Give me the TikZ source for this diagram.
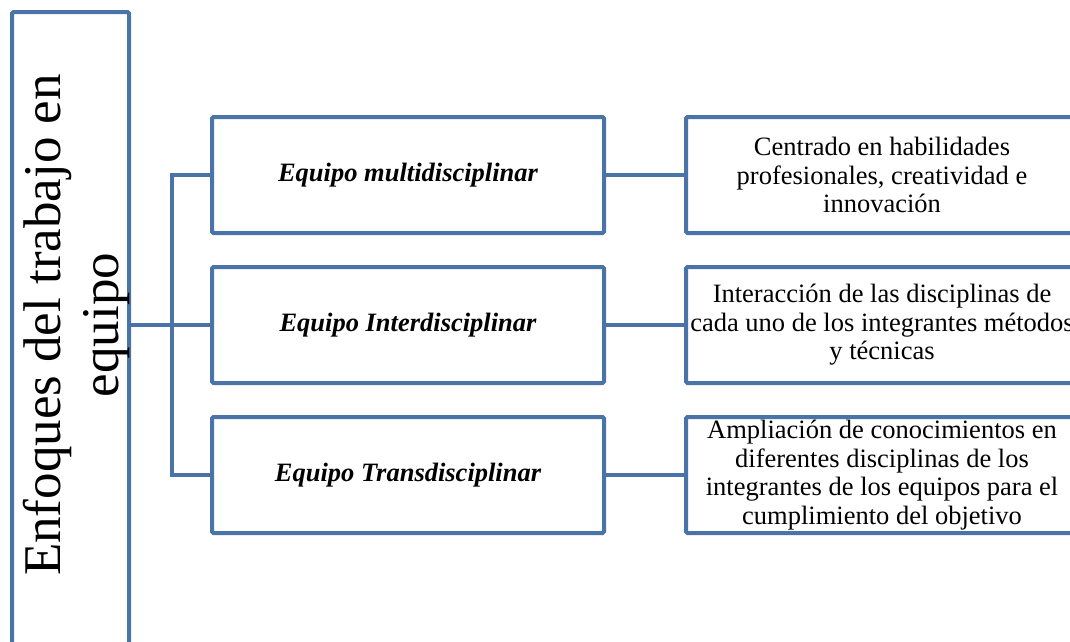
\documentclass[tikz,border=0pt]{standalone}
\usepackage{fontspec}
\setmainfont{Liberation Serif}
\usetikzlibrary{positioning}
\definecolor{marco}{RGB}{74,116,168}
\newcommand{\lw}{4pt}
\newcommand{\cajaw}{392}
\newcommand{\cajah}{116}

\begin{document}
\begin{tikzpicture}[x=1pt,y=-1pt,
    caja/.style={draw=marco, line width=\lw, rounded corners=1.5pt, fill=white, inner sep=2pt, align=center},
    enfoque/.style={caja, minimum width=\cajaw, minimum height=\cajah, font=\fontsize{26.5}{30}\selectfont\bfseries\itshape},
    detalle/.style={caja, minimum width=\cajaw, minimum height=\cajah, font=\fontsize{26.5}{28.5}\selectfont},
    enlace/.style={draw=marco, line width=\lw}]
        %\draw[help lines] (0,0) grid (1070,641);
        \useasboundingbox (0,0) rectangle (1070,641);
        \clip (0,0) rectangle (1070,641);

        \node[caja, minimum width=117, minimum height=700, anchor=north] (lbox) at (70.5,10) {};
        \node[rotate=90, align=center, font=\fontsize{53}{58}\selectfont] (titulo) at (76.5,325)
            {Enfoques del trabajo en\\equipo};

        \node[enfoque] (m1) at (408,175) {Equipo multidisciplinar};
        \node[enfoque] (m2) at (408,325) {Equipo Interdisciplinar};
        \node[enfoque] (m3) at (408,475) {Equipo Transdisciplinar};

        \node[detalle] (r1) at (882,175) {Centrado en habilidades\\profesionales, creatividad e\\innovación};
        \node[detalle] (r2) at (882,325) {Interacción de las disciplinas de\\cada uno de los integrantes métodos\\y técnicas};
        \node[detalle] (r3) at (882,475) {Ampliación de conocimientos en\\diferentes disciplinas de los\\integrantes de los equipos para el\\cumplimiento del objetivo};

        \draw[enlace] (lbox.east |- m2.west) -- (m2.west);
        \draw[enlace] (m1.west) -- ++(-38,0) |- (m3.west);

        \foreach \i in {1,2,3}
            \draw[enlace] (m\i) -- (r\i);

\end{tikzpicture}
\end{document}
